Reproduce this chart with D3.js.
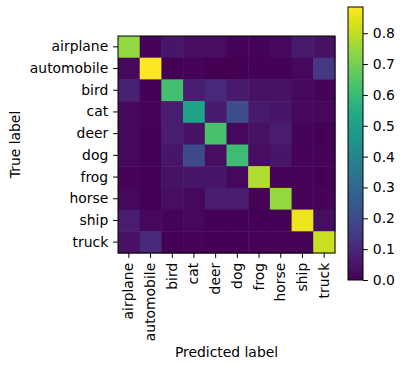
<!DOCTYPE html>
<meta charset="utf-8">
<style>
  body { margin: 0; background: #fff; }
  text { font-family: "DejaVu Sans", sans-serif; fill: #000; }
</style>
<script src="https://d3js.org/d3.v7.min.js"></script>
<div id="chart"></div>
<script>
// class names (rows = true, columns = predicted)
var classes = ["airplane", "automobile", "bird", "cat", "deer", "dog", "frog", "horse", "ship", "truck"];

// normalized confusion matrix, one array per true label
var airplane   = [0.74, 0.01, 0.05, 0.03, 0.03, 0.01, 0.01, 0.02, 0.06, 0.04];
var automobile = [0.02, 0.885, 0.003, 0.01, 0.003, 0.003, 0.005, 0.005, 0.02, 0.14];
var bird       = [0.08, 0.005, 0.62, 0.07, 0.10, 0.06, 0.04, 0.04, 0.02, 0.01];
var cat        = [0.02, 0.01, 0.07, 0.51, 0.06, 0.21, 0.06, 0.05, 0.02, 0.02];
var deer       = [0.02, 0.005, 0.07, 0.04, 0.63, 0.02, 0.04, 0.07, 0.01, 0.005];
var dog        = [0.02, 0.005, 0.05, 0.20, 0.03, 0.61, 0.03, 0.05, 0.01, 0.01];
var frog       = [0.01, 0.005, 0.04, 0.05, 0.05, 0.02, 0.78, 0.01, 0.01, 0.005];
var horse      = [0.02, 0.005, 0.03, 0.02, 0.07, 0.07, 0.01, 0.74, 0.01, 0.01];
var ship       = [0.07, 0.02, 0.01, 0.02, 0.005, 0.005, 0.005, 0.005, 0.86, 0.03];
var truck      = [0.04, 0.10, 0.005, 0.01, 0.005, 0.005, 0.01, 0.01, 0.01, 0.81];
var rows = [airplane, automobile, bird, cat, deer, dog, frog, horse, ship, truck];

var cbTicks = [0, 0.1, 0.2, 0.3, 0.4, 0.5, 0.6, 0.7, 0.8];

var width = 403, height = 371;
var mLeft = 118, mTop = 36, size = 217;
var fs = 13.9;

var cells = [];
rows.forEach(function(r, i) {
  r.forEach(function(v, j) { cells.push({ t: classes[i], p: classes[j], v: v }); });
});
var vmax = d3.max(cells, function(d) { return d.v; });

var svg = d3.select("#chart").append("svg")
  .attr("width", width)
  .attr("height", height);

var x = d3.scaleBand().domain(classes).range([mLeft, mLeft + size]);
var y = d3.scaleBand().domain(classes).range([mTop, mTop + size]);
var color = d3.scaleSequential(d3.interpolateViridis).domain([0, vmax]);

svg.selectAll("rect.cell")
  .data(cells)
  .enter()
  .append("rect")
    .attr("class", "cell")
    .attr("x", function(d) { return x(d.p); })
    .attr("y", function(d) { return y(d.t); })
    .attr("width", x.bandwidth() + 0.5)
    .attr("height", y.bandwidth() + 0.5)
    .attr("fill", function(d) { return color(d.v); });

svg.append("rect")
  .attr("x", mLeft).attr("y", mTop)
  .attr("width", size).attr("height", size)
  .attr("fill", "none").attr("stroke", "#000").attr("stroke-width", 1);

// axes
var yAxis = svg.append("g")
  .attr("transform", "translate(" + mLeft + ",0)")
  .call(d3.axisLeft(y).tickSize(4.9).tickPadding(4.9));
var xAxis = svg.append("g")
  .attr("transform", "translate(0," + (mTop + size) + ")")
  .call(d3.axisBottom(x).tickSize(4.9).tickPadding(4.9));
[xAxis, yAxis].forEach(function(g) {
  g.select(".domain").remove();
  g.selectAll("line").attr("stroke", "#000").attr("stroke-width", 1);
  g.selectAll("text").style("font-size", fs + "px").style("font-family", "DejaVu Sans");
});
xAxis.selectAll("text")
  .attr("transform", "rotate(-90)")
  .attr("x", -9.8)
  .attr("y", 0)
  .attr("dy", "0.32em")
  .style("text-anchor", "end");

svg.append("text")
  .attr("x", mLeft + size / 2).attr("y", 357)
  .attr("text-anchor", "middle")
  .style("font-size", fs + "px")
  .text("Predicted label");

svg.append("text")
  .attr("transform", "translate(20," + (mTop + size / 2) + ") rotate(-90)")
  .attr("text-anchor", "middle")
  .style("font-size", fs + "px")
  .text("True label");

// colorbar
var cbX = 348, cbW = 15, cbTop = 7, cbBot = 280;
var cy = d3.scaleLinear().domain([0, vmax]).range([cbBot, cbTop]);
var grad = svg.append("defs").append("linearGradient")
  .attr("id", "vir").attr("x1", 0).attr("y1", 1).attr("x2", 0).attr("y2", 0);
d3.range(0, 1.0001, 0.05).forEach(function(t) {
  grad.append("stop").attr("offset", t).attr("stop-color", d3.interpolateViridis(t));
});
svg.append("rect")
  .attr("x", cbX).attr("y", cbTop)
  .attr("width", cbW).attr("height", cbBot - cbTop)
  .attr("fill", "url(#vir)")
  .attr("stroke", "#000").attr("stroke-width", 1);
var cbAxis = svg.append("g")
  .attr("transform", "translate(" + (cbX + cbW) + ",0)")
  .call(d3.axisRight(cy).tickValues(cbTicks).tickFormat(d3.format(".1f")).tickSize(4.9).tickPadding(4.9));
cbAxis.select(".domain").remove();
cbAxis.selectAll("line").attr("stroke", "#000");
cbAxis.selectAll("text").style("font-size", fs + "px").style("font-family", "DejaVu Sans");
</script>
